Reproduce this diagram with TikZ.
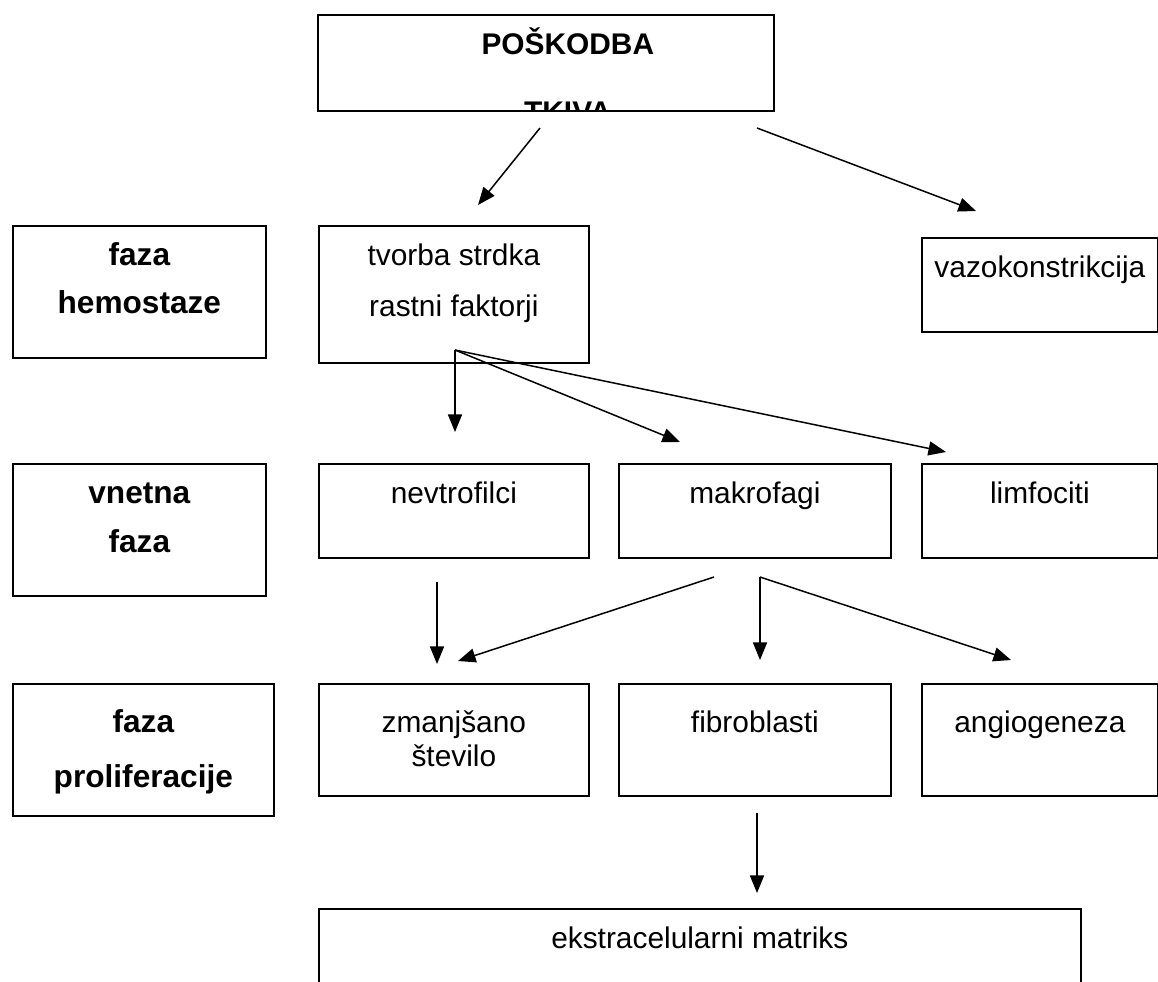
\documentclass[tikz,border=0pt]{standalone}
\usepackage{fontspec}
\setmainfont{Liberation Sans}
\usetikzlibrary{arrows.meta}

% box text: width, height, first baseline below the top, content
\newcommand{\boxtext}[4]{\parbox[c][#2][t]{#1}{\centering\rule{0pt}{#3}#4}}
\newcommand{\phasefont}{\fontsize{18}{21}\selectfont\bfseries}

\begin{document}
\fontsize{17}{19}\selectfont
\begin{tikzpicture}[
        x=0.02cm, y=-0.02cm,
        box/.style={draw, line width=1pt, inner sep=0pt, anchor=north west},
        arr/.style={-{Triangle[length=10pt,width=8pt]}, line width=0.85pt}
        ]
        \clip (0,0) rectangle (1158,981);
        % Nodes
        \node (injury) [box, path picture={\node[inner sep=0pt, anchor=base, xshift=0.44cm] at ([yshift=-2.16cm]path picture bounding box.north) {\bfseries TKIVA};}] at (317,14) {\boxtext{9.12cm}{1.92cm}{0.8cm}{\hspace*{0.88cm}\bfseries POŠKODBA}};
        \node (hemo) [box] at (12,225) {\boxtext{5.06cm}{2.64cm}{0.8cm}{\phasefont faza\\[0.22cm]hemostaze}};
        \node (clot) [box] at (318,225) {\boxtext{5.40cm}{2.74cm}{0.8cm}{tvorba strdka\\[0.34cm]rastni faktorji}};
        \node (vazo) [box] at (921,237) {\boxtext{4.72cm}{1.88cm}{0.8cm}{vazokonstrikcija}};
        \node (inflam) [box] at (12,463) {\boxtext{5.06cm}{2.64cm}{0.8cm}{\phasefont vnetna\\[0.24cm]faza}};
        \node (neutro) [box] at (318,463) {\boxtext{5.40cm}{1.88cm}{0.8cm}{nevtrofilci}};
        \node (macro) [box] at (618,463) {\boxtext{5.44cm}{1.88cm}{0.8cm}{makrofagi}};
        \node (lympho) [box] at (921,463) {\boxtext{4.72cm}{1.88cm}{0.8cm}{limfociti}};
        \node (prolif) [box] at (12,683) {\boxtext{5.22cm}{2.64cm}{0.98cm}{\phasefont faza\\[0.36cm]proliferacije}};
        \node (fewer) [box] at (318,683) {\boxtext{5.40cm}{2.24cm}{0.98cm}{zmanjšano\\število}};
        \node (fibro) [box] at (618,683) {\boxtext{5.44cm}{2.24cm}{0.98cm}{fibroblasti}};
        \node (angio) [box] at (921,683) {\boxtext{4.72cm}{2.24cm}{0.98cm}{angiogeneza}};
        \node (matrix) [box] at (318,908) {\boxtext{15.24cm}{2.00cm}{0.8cm}{ekstracelularni matriks}};

        % Arrow ends
        \coordinate (injuryL) at (540,128);
        \coordinate (clotIn) at (478,205);
        \coordinate (injuryR) at (757,128);
        \coordinate (vazoIn) at (976,211);
        \coordinate (clotOut) at (455,350);
        \coordinate (neutroIn) at (455,432);
        \coordinate (macroIn) at (680,442);
        \coordinate (lymphoIn) at (946,452);
        \coordinate (neutroOut) at (437,582);
        \coordinate (fewerIn1) at (437,664);
        \coordinate (macroOutL) at (714,577);
        \coordinate (fewerIn2) at (458,661);
        \coordinate (macroOutR) at (760,577);
        \coordinate (fibroIn) at (760,660);
        \coordinate (angioIn) at (1011,660);
        \coordinate (fibroOut) at (757,813);
        \coordinate (matrixIn) at (757,893);

        % Arrows
        \draw[arr] (injuryL) -- (clotIn);
        \draw[arr] (injuryR) -- (vazoIn);
        \draw[arr] (clotOut) -- (neutroIn);
        \draw[arr] (clotOut) -- (macroIn);
        \draw[arr] (clotOut) -- (lymphoIn);
        \draw[arr] (neutroOut) -- (fewerIn1);
        \draw[arr] (macroOutL) -- (fewerIn2);
        \draw[arr] (macroOutR) -- (fibroIn);
        \draw[arr] (macroOutR) -- (angioIn);
        \draw[arr] (fibroOut) -- (matrixIn);
    \end{tikzpicture}
\end{document}
